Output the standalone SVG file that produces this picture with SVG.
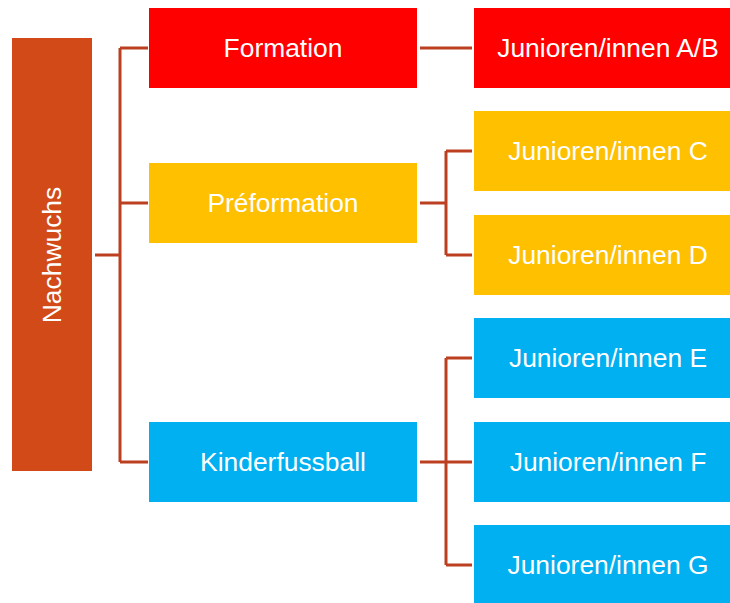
<svg xmlns="http://www.w3.org/2000/svg" width="730" height="603" viewBox="0 0 730 603">
<style>
.t{font-family:"Liberation Sans",Arial,sans-serif;font-size:26.4px;fill:#fff;text-anchor:middle}
.red{fill:#FF0000}.yel{fill:#FFC000}.blu{fill:#00B0F0}
.c{fill:none;stroke:#BC4020;stroke-width:3}
</style>
<rect width="730" height="603" fill="#fff"/>
<g id="connectors">
<path class="c" d="M95 255H120M120 48V462M120 48H148M120 203H148M120 462H148"/>
<path class="c" d="M420 48H472"/>
<path class="c" d="M420 203H446M446 151V255M446 151H472M446 255H472"/>
<path class="c" d="M420 462H472M446 358V565M446 358H472M446 565H472"/>
</g>
<g id="nachwuchs"><rect x="12" y="38" width="80" height="433" fill="#D24A17"/><text class="t" transform="translate(61 255) rotate(-90)">Nachwuchs</text></g>
<g id="formation"><rect class="red" x="149" y="8" width="268" height="80"/><text class="t" x="283" y="57">Formation</text></g>
<g id="preformation"><rect class="yel" x="149" y="163" width="268" height="80"/><text class="t" x="283" y="212">Préformation</text></g>
<g id="kinderfussball"><rect class="blu" x="149" y="422" width="268" height="80"/><text class="t" x="283" y="471">Kinderfussball</text></g>
<g id="jab"><rect class="red" x="474" y="8" width="268" height="80"/><text class="t" x="608" y="57">Junioren/innen A/B</text></g>
<g id="jc"><rect class="yel" x="474" y="111" width="268" height="80"/><text class="t" x="608" y="160">Junioren/innen C</text></g>
<g id="jd"><rect class="yel" x="474" y="215" width="268" height="80"/><text class="t" x="608" y="264">Junioren/innen D</text></g>
<g id="je"><rect class="blu" x="474" y="318" width="268" height="80"/><text class="t" x="608" y="367">Junioren/innen E</text></g>
<g id="jf"><rect class="blu" x="474" y="422" width="268" height="80"/><text class="t" x="608" y="471">Junioren/innen F</text></g>
<g id="jg"><rect class="blu" x="474" y="525" width="268" height="80"/><text class="t" x="608" y="574">Junioren/innen G</text></g>
</svg>
